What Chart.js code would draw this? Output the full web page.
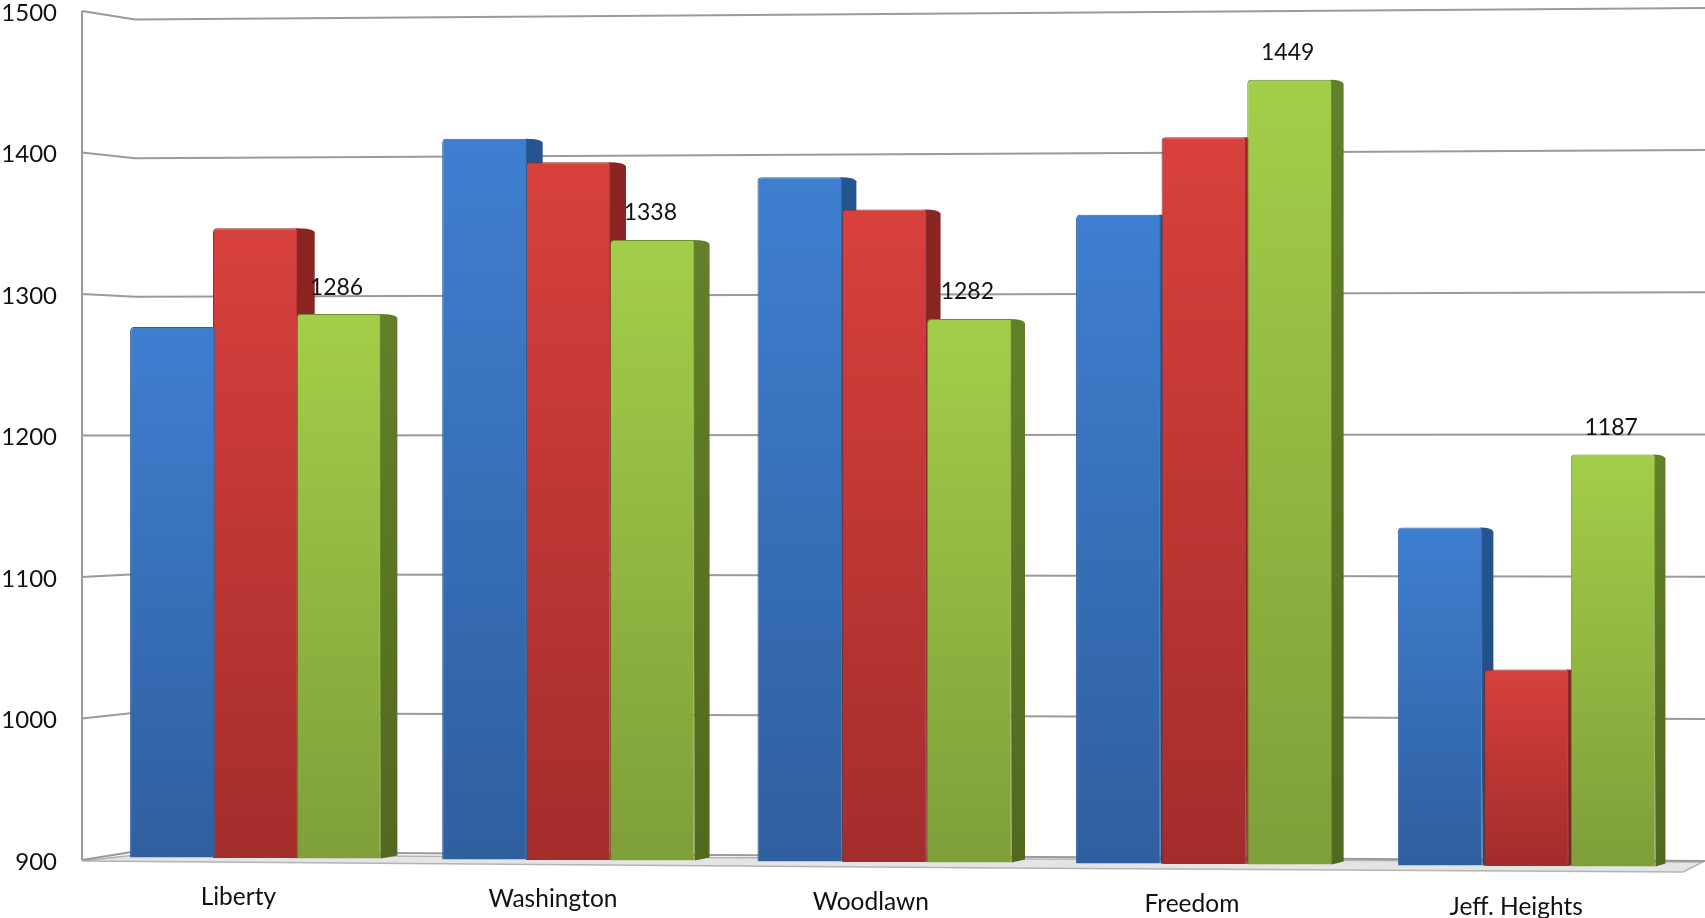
<!DOCTYPE html>
<html>
<head>
<meta charset="utf-8">
<title>Bar chart</title>
<script src="https://cdn.jsdelivr.net/npm/chart.js@4"></script>
<style>
    html, body { margin: 0; padding: 0; background: #fff; }
    canvas { display: block; }
</style>
</head>
<body>
<canvas id="barChart" width="1705" height="918"></canvas>
<script>
const categories = ['Liberty', 'Washington', 'Woodlawn', 'Freedom', 'Jeff. Heights'];
const blueValues = [1277, 1410, 1382, 1355, 1136];
const redValues = [1347, 1393, 1359, 1409, 1037];
const greenValues = [1286, 1338, 1282, 1449, 1187];
const axisTicks = { min: 900, max: 1500, step: 100 };

const textFont = 'Lato, "Open Sans", sans-serif';

// The picture is a slightly tilted 3D view: these bend scale pixels to match it
function tiltX(x) {
    return x + 1.6e-5 * (x - 887) * (x - 887) - 3;
}
function tiltY(x, y, bottom) {
    const base = 858 + (x - 255) * 0.0063;
    const stretch = 1 + (x - 567) * 1.4e-5;
    return base - (bottom - y) * stretch;
}
function sideDepth(x) {
    return 18.3 - 0.0052 * x;
}

function barGradient(top, bottom) {
    return function(ctx) {
        const yScale = ctx.chart.scales.y;
        if (!yScale || !ctx.parsed) {
            return top;
        }
        const start = yScale.getPixelForValue(ctx.parsed.y);
        if (!isFinite(start) || !isFinite(yScale.bottom)) {
            return top;
        }
        const g = ctx.chart.ctx.createLinearGradient(0, start, 0, yScale.bottom);
        g.addColorStop(0, top);
        g.addColorStop(1, bottom);
        return g;
    };
}

const sideColors = ['#24558f', '#8b2523', '#62802a'];
const sideColorsDark = ['#1f4a7c', '#7a201e', '#52691f'];

const tiltPlugin = {
    id: 'tilt',
    afterDatasetsUpdate(chart) {
        const bottom = chart.scales.y.bottom;
        chart.data.datasets.forEach((ds, i) => {
            chart.getDatasetMeta(i).data.forEach(bar => {
                const x = tiltX(bar.x);
                bar.y = tiltY(x, bar.y, bottom);
                bar.base = tiltY(x, bar.base, bottom);
                bar.x = x;
            });
        });
    },
    beforeDatasetsDraw(chart) {
        const ctx = chart.ctx;
        const y = chart.scales.y;
        ctx.save();

        // Floor
        ctx.fillStyle = '#e4e4e4';
        ctx.strokeStyle = '#b4b4b4';
        ctx.lineWidth = 1.5;
        ctx.beginPath();
        ctx.moveTo(82, y.bottom + 1);
        ctx.lineTo(135, y.bottom - 5);
        ctx.lineTo(1703, y.bottom + 2);
        ctx.lineTo(1683, y.bottom + 12);
        ctx.lineTo(1000, y.bottom + 8);
        ctx.closePath();
        ctx.fill();
        ctx.stroke();

        // Walls and gridlines, one per tick of the value axis
        ctx.strokeStyle = '#9a9a9a';
        ctx.lineWidth = 2;
        ctx.beginPath();
        ctx.moveTo(82, y.top);
        ctx.lineTo(82, y.bottom);
        y.ticks.forEach(t => {
            const py = y.getPixelForValue(t.value);
            ctx.moveTo(82, py);
            ctx.lineTo(135, 436 + (py - 436) * 0.98);
            ctx.lineTo(1705, 435 + (py - 436) * 1.005);
        });
        ctx.stroke();

        // Side faces of the bars, covered afterwards by the bars themselves
        chart.data.datasets.forEach((ds, i) => {
            chart.getDatasetMeta(i).data.forEach(bar => {
                const right = bar.x + bar.width / 2;
                const d = sideDepth(bar.x);
                const g = ctx.createLinearGradient(0, bar.y, 0, bar.base);
                g.addColorStop(0, sideColors[i]);
                g.addColorStop(1, sideColorsDark[i]);
                ctx.fillStyle = g;
                ctx.beginPath();
                ctx.moveTo(right - 2, bar.y);
                ctx.quadraticCurveTo(right + d - 2, bar.y, right + d, bar.y + 4);
                ctx.lineTo(right + d, bar.base - 3);
                ctx.lineTo(right, bar.base);
                ctx.closePath();
                ctx.fill();
            });
        });
        ctx.restore();
    },
    afterDatasetsDraw(chart) {
        const ctx = chart.ctx;
        const xScale = chart.scales.x;
        ctx.save();
        ctx.fillStyle = '#111';
        ctx.font = '23px ' + textFont;
        ctx.textAlign = 'center';
        ctx.textBaseline = 'middle';

        // Value labels over the green bars
        chart.getDatasetMeta(2).data.forEach((bar, i) => {
            ctx.fillText(String(greenValues[i]), bar.x - 2, bar.y - 27);
        });

        // Category labels follow the tilt of the floor
        ctx.font = '24.5px ' + textFont;
        categories.forEach((name, i) => {
            const cx = tiltX(xScale.getPixelForTick(i));
            const lx = cx - sideDepth(cx);
            ctx.fillText(name, lx, 897 + (lx - 238) * 0.0078);
        });
        ctx.restore();
    }
};

new Chart(document.getElementById('barChart'), {
    type: 'bar',
    data: {
        labels: categories,
        datasets: [
            { label: 'Blue', data: blueValues, backgroundColor: barGradient('#3f7fd0', '#2f5f9f'), borderColor: '#33639f' },
            { label: 'Red', data: redValues, backgroundColor: barGradient('#d8403d', '#a32d2b'), borderColor: '#80302a' },
            { label: 'Green', data: greenValues, backgroundColor: barGradient('#a3ce49', '#7f9f39'), borderColor: '#6f8c32' }
        ]
    },
    options: {
        responsive: false,
        animation: false,
        layout: { padding: { top: 11, right: 23, bottom: 0, left: 0 } },
        datasets: {
            bar: {
                base: axisTicks.min,
                clip: false,
                categoryPercentage: 0.8,
                barPercentage: 1,
                borderRadius: { topLeft: 4, topRight: 2, bottomLeft: 0, bottomRight: 0 },
                borderWidth: 1
            }
        },
        plugins: {
            legend: { display: false },
            title: { display: false },
            tooltip: { enabled: false }
        },
        scales: {
            x: {
                grid: { display: false },
                border: { display: false },
                ticks: { display: false },
                afterFit(scale) { scale.height = 58; }
            },
            y: {
                min: axisTicks.min,
                max: axisTicks.max,
                grid: { display: false, drawTicks: false },
                border: { display: false },
                ticks: {
                    stepSize: axisTicks.step,
                    padding: 36,
                    labelOffset: 2,
                    color: '#111',
                    font: { family: textFont, size: 24 },
                    callback: value => String(value)
                },
                afterFit(scale) {
                    scale.width = 93;
                    scale.paddingTop = 0;
                    scale.paddingBottom = 0;
                }
            }
        }
    },
    plugins: [tiltPlugin]
});
</script>
</body>
</html>
